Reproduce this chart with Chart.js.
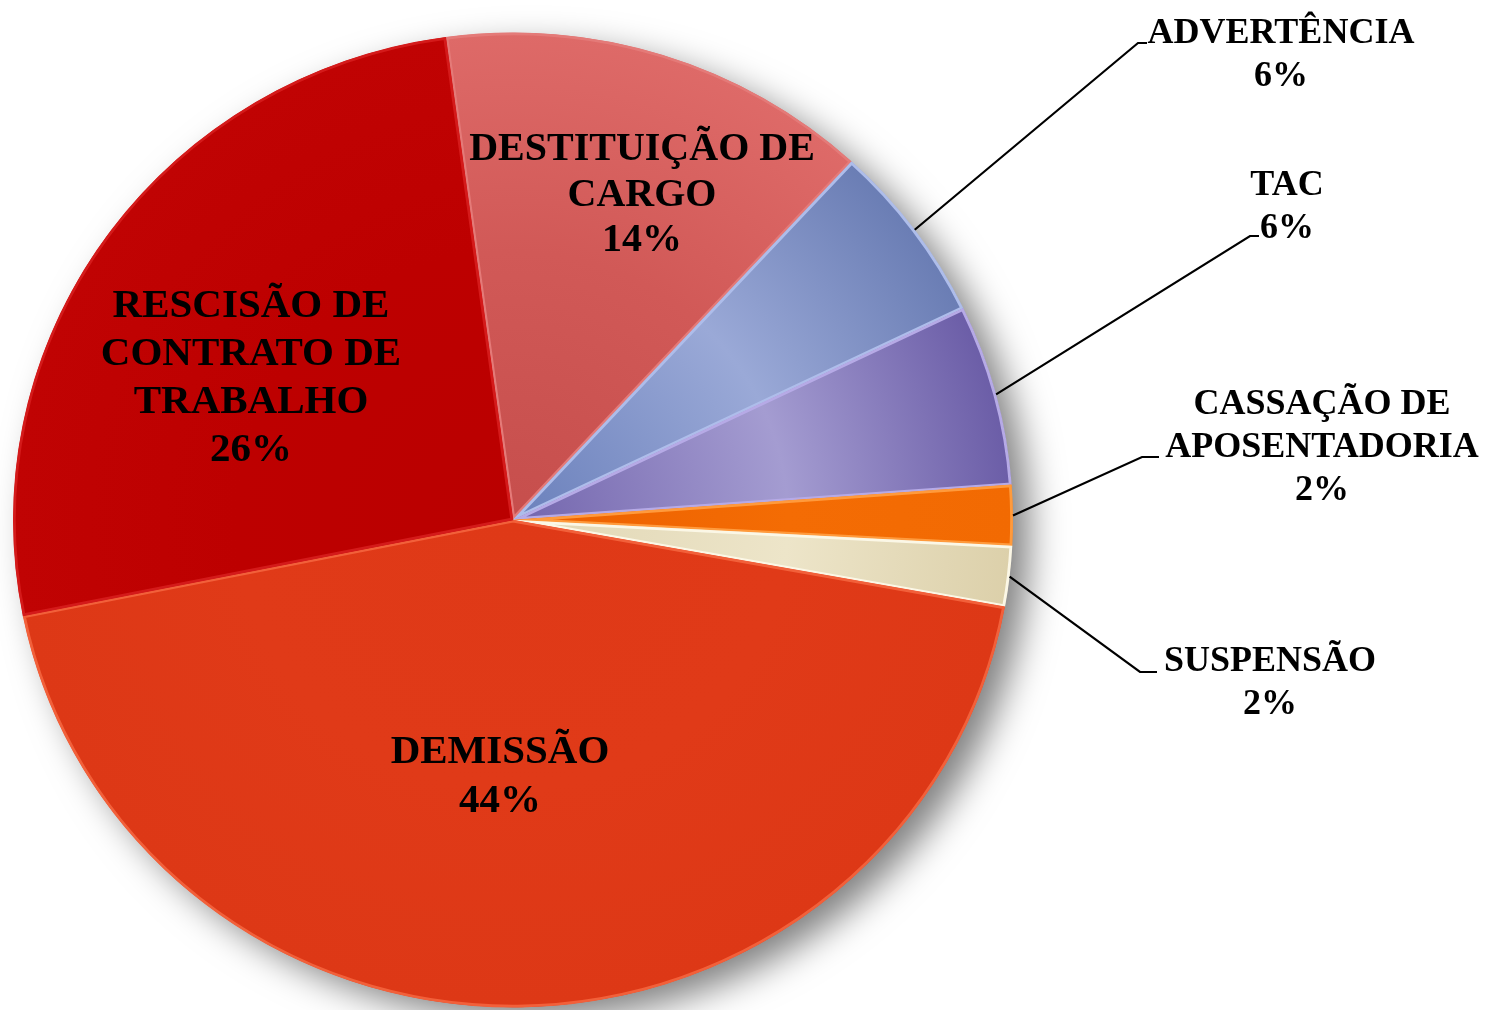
<!DOCTYPE html>
<html><head><meta charset="utf-8">
<script src="https://cdn.jsdelivr.net/npm/chart.js@4.4.1/dist/chart.umd.min.js"></script>
<style>html,body{margin:0;padding:0;background:#fff;overflow:hidden}canvas{display:block}</style>
</head><body>
<canvas id="c" width="1490" height="1010"></canvas>
<script>
// ---- data ----
const categories = ['DESTITUIÇÃO DE CARGO','ADVERTÊNCIA','TAC','CASSAÇÃO DE APOSENTADORIA','SUSPENSÃO','DEMISSÃO','RESCISÃO DE CONTRATO DE TRABALHO'];
const counts = [7, 3, 3, 1, 1, 22, 13];
const labelLines = [['DESTITUIÇÃO DE','CARGO'],['ADVERTÊNCIA'],['TAC'],['CASSAÇÃO DE','APOSENTADORIA'],['SUSPENSÃO'],['DEMISSÃO'],['RESCISÃO DE','CONTRATO DE','TRABALHO']];

// ---- styles ----
const fillStops = [
  ['#c64e4c','#d15957','#de6a68'],
  ['#6a80bb','#9aa9d7','#6a7db4'],
  ['#7365ad','#a49cd1','#6b5da7'],
  ['#ec6000','#f46c04','#f26a02'],
  ['#e0d6b4','#ede5c9','#dcd0aa'],
  ['#df3917','#e03a18','#dd3816'],
  ['#ba0000','#bd0000','#c00303']
];
const bevel = ['#e47a78','#aebdea','#b6aae6','#ff9a3c','#fbf7e6','#f2603a','#d41a1a'];
const ELLIPSE = 0.975;
const FONT = '"Liberation Serif", "Times New Roman", serif';
// label layout: inside labels {x, y(first baseline), lh, size}; outside labels add leader elbow
const labelLayout = [
  {inside:true, x:642, y:160, lh:45.5, size:40},
  {inside:false, x:1281, y:43, lh:43, size:36, elbow:[1138,43], end:[1147,43]},
  {inside:false, x:1287, y:195, lh:43, size:36, elbow:[1250,236], end:[1259,236]},
  {inside:false, x:1322, y:414, lh:43, size:36, elbow:[1142,457], end:[1159,457]},
  {inside:false, x:1270, y:671, lh:43, size:36, elbow:[1140,672], end:[1157,672]},
  {inside:true, x:500, y:763, lh:49, size:41},
  {inside:true, x:251, y:317, lh:48, size:41}
];

const total = counts.reduce((a,b)=>a+b,0);

function sliceFill(ctx){
  const chart = ctx.chart, i = ctx.dataIndex, a = chart.chartArea;
  if (!a) return fillStops[i][1];
  const cx = (a.left+a.right)/2, cy = (a.top+a.bottom)/2;
  const g = chart.ctx.createRadialGradient(cx, cy, 0, cx, cy, 500);
  g.addColorStop(0, fillStops[i][0]);
  g.addColorStop(0.55, fillStops[i][1]);
  g.addColorStop(1, fillStops[i][2]);
  return g;
}

const piePlugin = {
  id:'pieDeco',
  beforeDatasetsDraw(chart){
    const ctx = chart.ctx;
    const el = chart.getDatasetMeta(0).data[0];
    const cx = el.x, cy = el.y, r = el.outerRadius;
    // drop shadow
    ctx.save();
    ctx.translate(cx, cy); ctx.scale(1, ELLIPSE); ctx.translate(-cx, -cy);
    ctx.shadowColor = 'rgba(0,0,0,0.5)';
    ctx.shadowBlur = 36; ctx.shadowOffsetX = 18; ctx.shadowOffsetY = 14;
    ctx.beginPath(); ctx.arc(cx, cy, r-2, 0, Math.PI*2); ctx.fillStyle = '#c00'; ctx.fill();
    ctx.restore();
    // ellipse transform for arcs
    ctx.save();
    ctx.translate(cx, cy); ctx.scale(1, ELLIPSE); ctx.translate(-cx, -cy);
  },
  afterDatasetsDraw(chart){
    chart.ctx.restore();
  },
  afterDraw(chart){
    const ctx = chart.ctx;
    const meta = chart.getDatasetMeta(0);
    ctx.save();
    ctx.fillStyle = '#000';
    ctx.textAlign = 'center';
    ctx.textBaseline = 'alphabetic';
    meta.data.forEach((el, i) => {
      const L = labelLayout[i];
      const pct = Math.round(counts[i]/total*100) + '%';
      const lines = labelLines[i].concat([pct]);
      ctx.font = 'bold ' + L.size + 'px ' + FONT;
      lines.forEach((t, k) => ctx.fillText(t, L.x, L.y + k*L.lh));
      if (!L.inside) {
        const mid = (el.startAngle + el.endAngle)/2;
        const px = el.x + el.outerRadius*Math.cos(mid);
        const py = el.y + el.outerRadius*ELLIPSE*Math.sin(mid);
        ctx.beginPath();
        ctx.moveTo(px, py);
        ctx.lineTo(L.elbow[0], L.elbow[1]);
        ctx.lineTo(L.end[0], L.end[1]);
        ctx.strokeStyle = '#000'; ctx.lineWidth = 2.2;
        ctx.stroke();
      }
    });
    ctx.restore();
  }
};

new Chart(document.getElementById('c'), {
  type:'pie',
  data:{
    labels: categories,
    datasets:[{
      data: counts,
      backgroundColor: sliceFill,
      borderColor: bevel,
      borderWidth: 2.5,
      borderAlign: 'inner',
      clip: false
    }]
  },
  options:{
    responsive:false,
    animation:false,
    devicePixelRatio:1,
    events:[],
    rotation:-7.74,
    radius:500,
    layout:{padding:{left:13, right:477, top:30, bottom:0}},
    plugins:{legend:{display:false}, tooltip:{enabled:false}}
  },
  plugins:[piePlugin]
});
</script>
</body></html>
